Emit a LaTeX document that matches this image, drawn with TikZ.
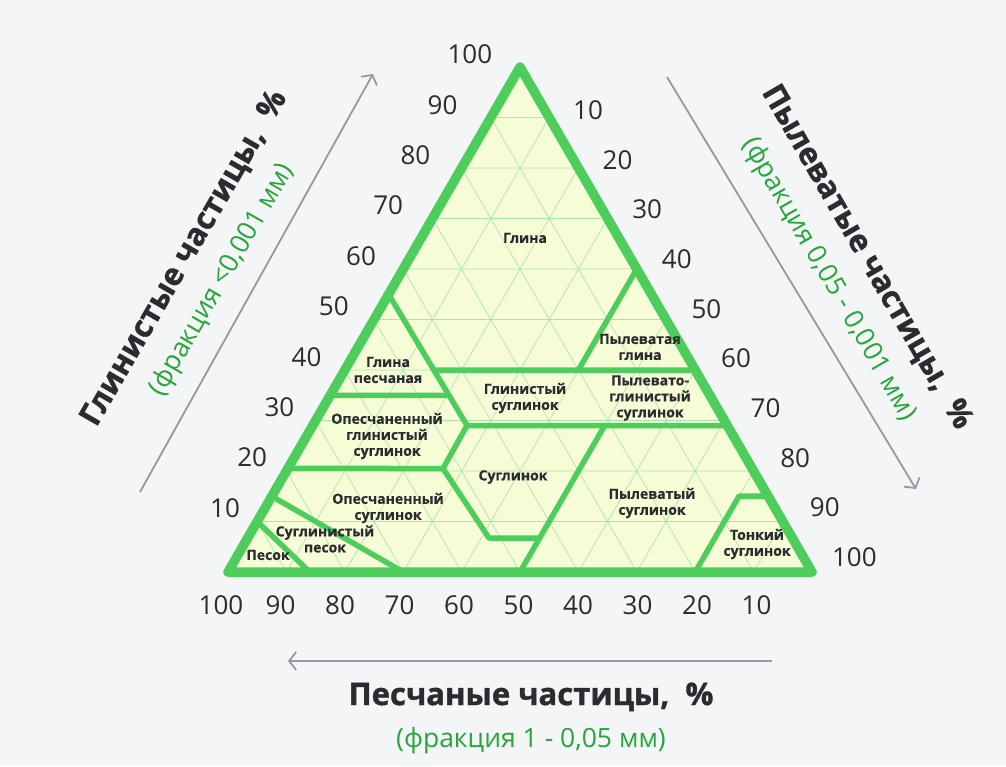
\documentclass[tikz,border=0pt]{standalone}
\usepackage{fontspec}
\setmainfont{Open Sans}
\newfontfamily\heavyfont[BoldFeatures={FakeBold=1.2}]{Open Sans}
\newfontfamily\zonefont[BoldFeatures={FakeBold=0.5}]{Open Sans}
\usetikzlibrary{calc,arrows.meta}
\definecolor{bgGray}{RGB}{244,245,247}
\definecolor{triFill}{RGB}{246,252,214}
\definecolor{triLine}{RGB}{76,205,92}
\definecolor{gridGreen}{RGB}{168,230,176}
\definecolor{subGreen}{RGB}{38,166,58}
\definecolor{inkDark}{RGB}{44,44,48}
\definecolor{arrowGray}{RGB}{150,154,160}
\newcommand\axtitle{\heavyfont\fontsize{31}{42}\selectfont\bfseries}
\newcommand\axsub{\fontsize{26.5}{30}\selectfont\mdseries\color{subGreen}}
\tikzset{
  zone/.style={draw=triLine, line width=5.5pt, line cap=round, line join=round},
  zonelabel/.style={font=\zonefont\fontsize{14}{16}\selectfont\bfseries, text=inkDark,
    align=center, inner sep=0pt},
  ticknum/.style={font=\fontsize{26}{26}\selectfont, text=inkDark, inner sep=0pt},
  axisarrow/.style={draw=arrowGray, line width=1.8pt,
    -{Straight Barb[length=7pt,width=18pt]}},
  axistitle/.style={text=inkDark, align=center, font=\axtitle}
}
\begin{document}
\begin{tikzpicture}[x=1pt,y=-1pt]
  \fill[bgGray] (0,0) rectangle (1006,766);
  \useasboundingbox (0,0) rectangle (1006,766);
  \coordinate (B) at (228,572); \coordinate (R) at (812,572);
  \coordinate (T) at (520,67);
  \fill[triFill] (B)--(R)--(T)--cycle;
  \foreach \i in {1,...,9}
    \draw[gridGreen, line width=0.7pt]
      ($(B)!\i/10!(T)$) -- ($(R)!\i/10!(T)$)
      ($(B)!\i/10!(R)$) -- ($(R)!{1-\i/10}!(T)$)
      ($(B)!\i/10!(R)$) -- ($(B)!\i/10!(T)$);
  \coordinate (L55) at ($(B)!0.55!(T)$); \coordinate (L35) at ($(B)!0.35!(T)$);
  \coordinate (L20) at ($(B)!0.205!(T)$); \coordinate (L15) at ($(B)!0.15!(T)$);
  \coordinate (L10) at ($(B)!0.10!(T)$);
  \coordinate (R60) at ($(R)!0.6!(T)$); \coordinate (R40) at ($(R)!0.4!(T)$);
  \coordinate (R29) at ($(R)!0.29!(T)$); \coordinate (R15) at ($(R)!0.15!(T)$);
  \coordinate (B14) at ($(B)!0.14!(R)$); \coordinate (B30) at ($(B)!0.30!(R)$);
  \coordinate (B50) at ($(B)!0.5!(R)$); \coordinate (B80) at ($(B)!0.8!(R)$);
  \coordinate (J1) at (467,425.5); \coordinate (J2) at (443,468.5);
  \coordinate (J3) at (489,538); \coordinate (J4) at (539.7,538);
  \coordinate (S40) at (578.4,370); \coordinate (S50) at (604.7,425.5);
  \coordinate (F1) at (739,496.2);
  \coordinate (K40) at (intersection of L55--J1 and R40--S40);
  \coordinate (K35) at (448.9,395.3);
  \draw[zone] (L55) -- (J1) -- (R29);
  \draw[zone] (K40) -- (R40);
  \draw[zone] (L35) -- (K35);
  \draw[zone] (L20) -- (J2) -- (J1);
  \draw[zone] (J2) -- (J3) -- (J4);
  \draw[zone] (R60) -- (S40);
  \draw[zone] (B50) -- (S50);
  \draw[zone] (B80) -- (F1) -- (R15);
  \draw[zone] (L15) -- (B30);
  \draw[zone] (L10) -- (B14);
  \draw[triLine, line width=9.5pt, line join=round] (B) -- (R) -- (T) -- cycle;

  \node[zonelabel] (glina) at (525,238) {Глина};
  \node[zonelabel] (glinaPes) at (388,370) {Глина\\песчаная};
  \node[zonelabel] (opGlSugl) at (387,436) {Опесчаненный\\глинистый\\суглинок};
  \node[zonelabel] (opSugl) at (388,508) {Опесчаненный\\суглинок};
  \node[zonelabel] (suglPes) at (325,539) {Суглинистый\\песок};
  \node[zonelabel] (pesok) at (268,555) {Песок};
  \node[zonelabel] (glSugl) at (525,398) {Глинистый\\суглинок};
  \node[zonelabel] (sugl) at (513,477) {Суглинок};
  \node[zonelabel] (pylGlina) at (640,347) {Пылеватая\\глина};
  \node[zonelabel] (pylGlSugl) at (650,398) {Пылевато-\\глинистый\\суглинок};
  \node[zonelabel] (pylSugl) at (652,503) {Пылеватый\\суглинок};
  \node[zonelabel] (tonSugl) at (757,544) {Тонкий\\суглинок};

  \foreach \v in {10,20,...,100} {
    \node[ticknum] (clay\v) at ({225+2.72*(\v-10)},{508-5.04*(\v-10)}) {\v};
    \node[ticknum] (silt\v) at ({588+2.96*(\v-10)},{110+4.97*(\v-10)}) {\v};
    \node[ticknum] (sand\v) at ({221+5.95*(100-\v)},605) {\v};
  }

  \coordinate (clayTail) at (140,492); \coordinate (clayHead) at (373,74);
  \coordinate (siltTail) at (667,77); \coordinate (siltHead) at (916,489);
  \coordinate (sandTail) at (772,661); \coordinate (sandHead) at (288,661);
  \draw[axisarrow] (clayTail) -- (clayHead);
  \draw[axisarrow] (siltTail) -- (siltHead);
  \draw[axisarrow] (sandTail) -- (sandHead);

  \node[axistitle, rotate=60] (clayTitle) at (203,269)
    {Глинистые частицы,~~\%\\{\axsub(фракция <0,001 мм)}};
  \node[axistitle, rotate=-60] (siltTitle) at (848,268)
    {Пылеватые частицы,~~\%\\{\axsub(фракция 0,05 - 0,001 мм)}};
  \node[axistitle] (sandTitle) at (531,718)
    {Песчаные частицы,~~\%\\{\axsub(фракция 1 - 0,05 мм)}};
\end{tikzpicture}
\end{document}
